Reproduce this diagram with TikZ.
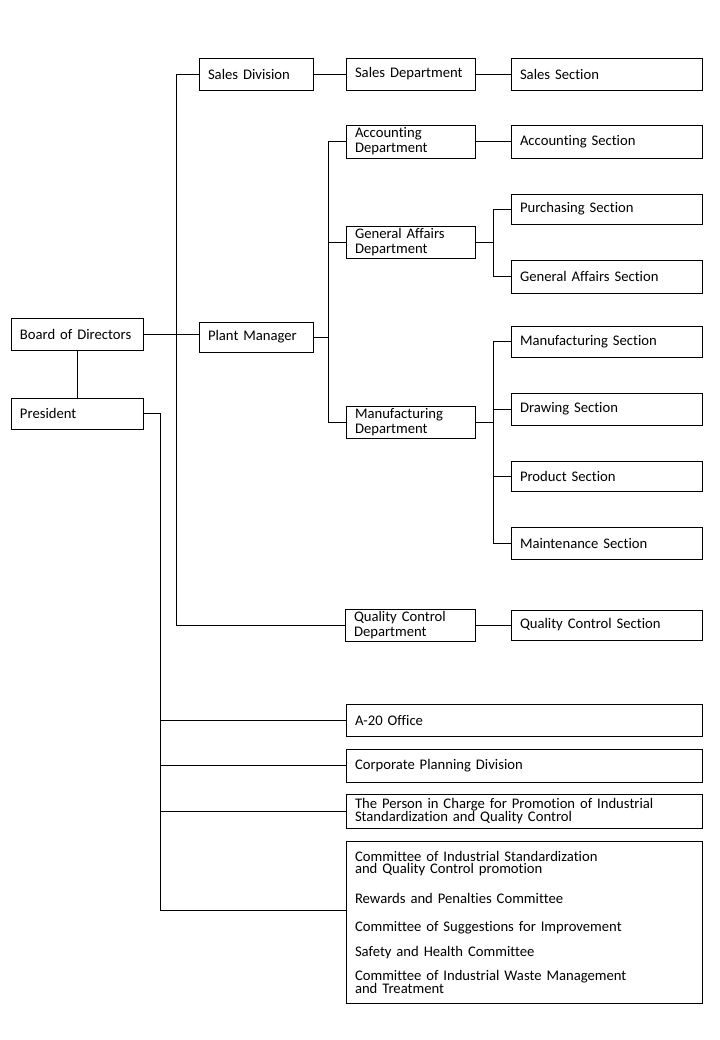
\documentclass[tikz,border=0pt]{standalone}
\usepackage{fontspec}
\setmainfont{Carlito}[Ligatures={NoCommon}]
\begin{document}
\begin{tikzpicture}[x=0.75pt,y=-0.75pt,line width=0.6pt,
  bx/.style n args={2}{draw, rectangle, inner xsep=6.75pt, inner ysep=0pt,
     minimum width=#1*0.75pt, minimum height=#2*0.75pt,
     text width=#1*0.75pt-13.5pt, align=left,
     font=\fontsize{11}{11.25}\selectfont},
  conn/.style={line width=0.6pt}]
\useasboundingbox (0,0) rectangle (720,1040);

\node[bx={132}{32}] (bod)  at (77,334)    {Board of Directors};
\node[bx={132}{31}] (pres) at (77,413.5)  {President};
\node[bx={114}{32}] (sdiv) at (256,74)    {Sales Division};
\node[bx={129}{32}] (sdep) at (410.5,74)  {Sales Department};
\node[bx={191}{32}] (ssec) at (606.5,74)  {Sales Section};
\node[bx={114}{30}] (pm)   at (256,337)   {Plant Manager};
\node[bx={129}{33}] (acd)  at (410.5,141.5) {Accounting\\Department};
\node[bx={191}{33}] (acs)  at (606.5,141.5) {Accounting Section};
\node[bx={129}{32}] (gad)  at (410.5,242) {General Affairs\\Department};
\node[bx={191}{30}] (pus)  at (606.5,209) {Purchasing Section};
\node[bx={191}{33}] (gas)  at (606.5,276.5) {General Affairs Section};
\node[bx={129}{32}] (mfd)  at (410.5,422) {Manufacturing\\Department};
\node[bx={191}{31}] (mfs)  at (606.5,341.5) {Manufacturing Section};
\node[bx={191}{32}] (drs)  at (606.5,409) {Drawing Section};
\node[bx={191}{30}] (prs)  at (606.5,476) {Product Section};
\node[bx={191}{32}] (mts)  at (606.5,543) {Maintenance Section};
\node[bx={130}{32}] (qcd)  at (410,625)   {Quality Control\\Department};
\node[bx={191}{30}] (qcs)  at (606.5,625) {Quality Control Section};
\node[bx={356}{32}] (a20)  at (524,720)   {A-20 Office};
\node[bx={356}{33}] (cpd)  at (524,765.5) {Corporate Planning Division};
\node[bx={356}{34}] (pic)  at (524,811)   {The Person in Charge for Promotion of Industrial\\[-1.5pt]Standardization and Quality Control};
\node[bx={356}{162}] (com) at (524,922)   {Committee of Industrial Standardization\\[-2pt]and Quality Control promotion\\[11.25pt]Rewards and Penalties Committee\\[9.5pt]Committee of Suggestions for Improvement\\[7.7pt]Safety and Health Committee\\[7pt]Committee of Industrial Waste Management\\[-2pt]and Treatment};

% Board to President
\draw[conn] (bod.south) -- (bod.south |- pres.north);
% Board to Plant Manager
\draw[conn] (bod.east) -- (bod.east -| pm.west);
% Trunk: Sales Division ... Quality Control Department
\draw[conn] (sdiv.west) -- ++(-22,0) coordinate (tr) |- (qcd.west);
% Sales chain
\draw[conn] (sdiv.east) -- (sdep.west);
\draw[conn] (sdep.east) -- (ssec.west);
% Plant Manager branch
\draw[conn] (pm.east) -- ++(15,0) coordinate (pmj);
\draw[conn] (acd.west) -- (acd.west -| pmj) -- (mfd.west -| pmj) -- (mfd.west);
\draw[conn] (gad.west) -- (gad.west -| pmj);
\draw[conn] (acd.east) -- (acs.west);
% General Affairs branch
\draw[conn] (gad.east) -- ++(18,0) coordinate (gaj);
\draw[conn] (pus.west) -- (pus.west -| gaj) -- (gas.west -| gaj) -- (gas.west);
% Manufacturing branch
\draw[conn] (mfd.east) -- ++(18,0) coordinate (mfj);
\draw[conn] (mfs.west) -- (mfs.west -| mfj) -- (mts.west -| mfj) -- (mts.west);
\draw[conn] (drs.west) -- (drs.west -| mfj);
\draw[conn] (prs.west) -- (prs.west -| mfj);
% Quality control
\draw[conn] (qcd.east) -- (qcs.west);
% President branch
\draw[conn] (pres.east) -- ++(17,0) coordinate (pj) |- ([yshift=9pt]com.west);
\draw[conn] (a20.west) -- (a20.west -| pj);
\draw[conn] (cpd.west) -- (cpd.west -| pj);
\draw[conn] (pic.west) -- (pic.west -| pj);
\end{tikzpicture}
\end{document}
